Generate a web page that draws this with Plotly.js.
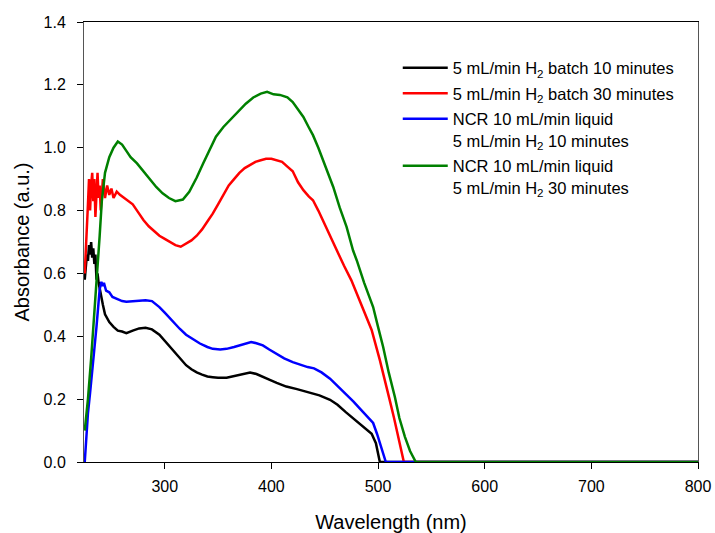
<!DOCTYPE html>
<html>
<head>
<meta charset="utf-8">
<script src="https://cdn.plot.ly/plotly-3.0.1.min.js"></script>
<style>html,body{margin:0;padding:0;background:#fff;}#chart{width:715px;height:533px;}</style>
</head>
<body>
<div id="chart"></div>
<script>
// Series names
const seriesNames = [
  "5 mL/min H<sub>2</sub> batch 10 minutes",
  "5 mL/min H<sub>2</sub> batch 30 minutes",
  "NCR 10 mL/min liquid<br>5 mL/min H<sub>2</sub> 10 minutes",
  "NCR 10 mL/min liquid<br>5 mL/min H<sub>2</sub> 30 minutes"
];
const seriesColors = ["#000000", "#ff0000", "#0000ff", "#008000"];

// Black: 5 mL/min H2 batch 10 minutes
const wlBatch10 = [225,226,227,228,229,230,231,232,233,234,235,236,237,238,239,240,242,244,246,248,252,256,260,264,270,276,282,288,295,300,305,310,315,320,325,330,335,340,345,350,358,365,372,380,386,392,398,405,414,424,433,445,455,462,470,478,486,494,498,501.7,510,800];
const absBatch10 = [0.58,0.62,0.66,0.64,0.69,0.66,0.70,0.65,0.68,0.63,0.66,0.58,0.60,0.57,0.55,0.53,0.50,0.47,0.455,0.445,0.43,0.418,0.415,0.41,0.418,0.425,0.427,0.422,0.405,0.385,0.366,0.345,0.328,0.308,0.295,0.285,0.278,0.272,0.27,0.268,0.268,0.274,0.28,0.285,0.28,0.272,0.262,0.252,0.24,0.232,0.223,0.212,0.198,0.182,0.158,0.135,0.112,0.09,0.06,0.0,0,0];

// Red: 5 mL/min H2 batch 30 minutes
const wlBatch30 = [225,226,227,228,229,230,231,232,233,234,235,236,237,238,239,240,241,242,244,246,248,250,252,255,258,262,266,270,275,280,285,290,295,300,305,310,315,320,325,330,335,340,345,350,355,360,365,370,375,380,385,390,395,400,405,410,415,420,425,430,435,439,444,448,455,461,468,475,482,488,494,501.7,506,511,515,519,522,524.2,530,800];
const absBatch30 = [0.60,0.66,0.75,0.82,0.90,0.80,0.88,0.92,0.83,0.90,0.78,0.86,0.92,0.84,0.88,0.80,0.87,0.90,0.84,0.88,0.85,0.87,0.84,0.86,0.85,0.84,0.83,0.82,0.795,0.77,0.75,0.735,0.72,0.71,0.70,0.69,0.685,0.695,0.705,0.72,0.74,0.765,0.79,0.82,0.85,0.88,0.90,0.92,0.935,0.945,0.955,0.96,0.965,0.965,0.96,0.955,0.94,0.925,0.89,0.865,0.845,0.833,0.80,0.77,0.72,0.675,0.625,0.578,0.52,0.47,0.42,0.324,0.26,0.196,0.14,0.08,0.03,0,0,0];

// Blue: NCR 10 mL/min liquid, 5 mL/min H2 10 minutes
const wlNcr10 = [225,225.5,226.5,228,230,233,236,239,240.6,242,243,245,248,251,255,260,264,270,276,282,288,292,295,300,305,310,314,320,325,333,340,345,352,358,365,370,376,381,386,392,398,405,412,420,428,434,440,447,455,462,470,477,483,489,495.4,499,503,507.3,515,800];
const absNcr10 = [0.0,0.03,0.09,0.155,0.22,0.32,0.43,0.55,0.573,0.56,0.57,0.545,0.54,0.525,0.52,0.512,0.51,0.512,0.515,0.515,0.512,0.502,0.493,0.475,0.456,0.438,0.424,0.405,0.395,0.377,0.366,0.36,0.358,0.36,0.366,0.371,0.378,0.382,0.378,0.371,0.358,0.345,0.33,0.318,0.308,0.302,0.298,0.285,0.265,0.242,0.218,0.192,0.17,0.148,0.124,0.09,0.045,0,0,0];

// Green: NCR 10 mL/min liquid, 5 mL/min H2 30 minutes
const wlNcr30 = [225,228,231,233,236,239,241,244,248,252,256,260,264,268,274,280,286,292,298,304,310,317,323,330,336,342,348,355,362,370,376,383,390,396,402,408,415,420,425,430,435,439,444,448.5,453,458,464,470.5,476.6,480,487,495.4,500,504.8,510,515.8,520,525.2,530,535.4,540,800];
const absNcr30 = [0.1,0.2,0.33,0.42,0.58,0.72,0.83,0.92,0.97,1.0,1.02,1.01,0.99,0.97,0.95,0.925,0.9,0.875,0.855,0.84,0.83,0.835,0.86,0.905,0.95,0.995,1.035,1.066,1.09,1.119,1.14,1.16,1.172,1.178,1.17,1.168,1.16,1.145,1.12,1.098,1.065,1.04,1.0,0.96,0.918,0.875,0.81,0.748,0.673,0.642,0.57,0.493,0.43,0.366,0.285,0.207,0.14,0.08,0.035,0,0,0];

const xTicks = [300, 400, 500, 600, 700, 800];
const yTicks = [0.0, 0.2, 0.4, 0.6, 0.8, 1.0, 1.2, 1.4];

const xs = [wlBatch10, wlBatch30, wlNcr10, wlNcr30];
const ys = [absBatch10, absBatch30, absNcr10, absNcr30];

const traces = xs.map((x, i) => ({
  x: x, y: ys[i], type: "scatter", mode: "lines",
  name: seriesNames[i], legendgroup: "g" + i,
  line: {color: seriesColors[i], width: 2.5}
}));

const fontFam = "Arial, 'Liberation Sans', sans-serif";
const layout = {
  width: 715, height: 533,
  margin: {l: 84, r: 17, t: 22, b: 71, pad: 0},
  paper_bgcolor: "#fff", plot_bgcolor: "#fff",
  font: {family: fontFam, color: "#000", size: 16},
  showlegend: true,
  legend: {
    x: 0.511, y: 0.935, xanchor: "left", yanchor: "top",
    font: {family: fontFam, size: 16.5, color: "#000"},
    bgcolor: "rgba(0,0,0,0)", borderwidth: 0,
    tracegroupgap: 1, valign: "top", itemwidth: 45
  },
  xaxis: {
    range: [224.3, 800], tickvals: xTicks, ticktext: xTicks.map(String),
    showgrid: false, zeroline: false,
    showline: true, linecolor: "#000", linewidth: 1, mirror: true,
    ticks: "outside", ticklen: 6, tickcolor: "#000", tickwidth: 1,
    ticklabelstandoff: 4,
    tickfont: {family: fontFam, size: 16, color: "#000"},
    title: {text: "Wavelength (nm)", font: {family: fontFam, size: 20, color: "#000"}, standoff: 20}
  },
  yaxis: {
    range: [0, 1.4], tickvals: yTicks, ticktext: yTicks.map(v => v.toFixed(1)),
    showgrid: false, zeroline: false,
    showline: true, linecolor: "#555", linewidth: 1, mirror: true,
    ticks: "outside", ticklen: 6, tickcolor: "#000", tickwidth: 1,
    ticklabelstandoff: 8,
    tickfont: {family: fontFam, size: 16, color: "#000"},
    title: {text: "Absorbance (a.u.)", font: {family: fontFam, size: 20, color: "#000"}, standoff: 8}
  }
};

Plotly.newPlot("chart", traces, layout, {displayModeBar: false, staticPlot: true});
</script>
</body>
</html>
